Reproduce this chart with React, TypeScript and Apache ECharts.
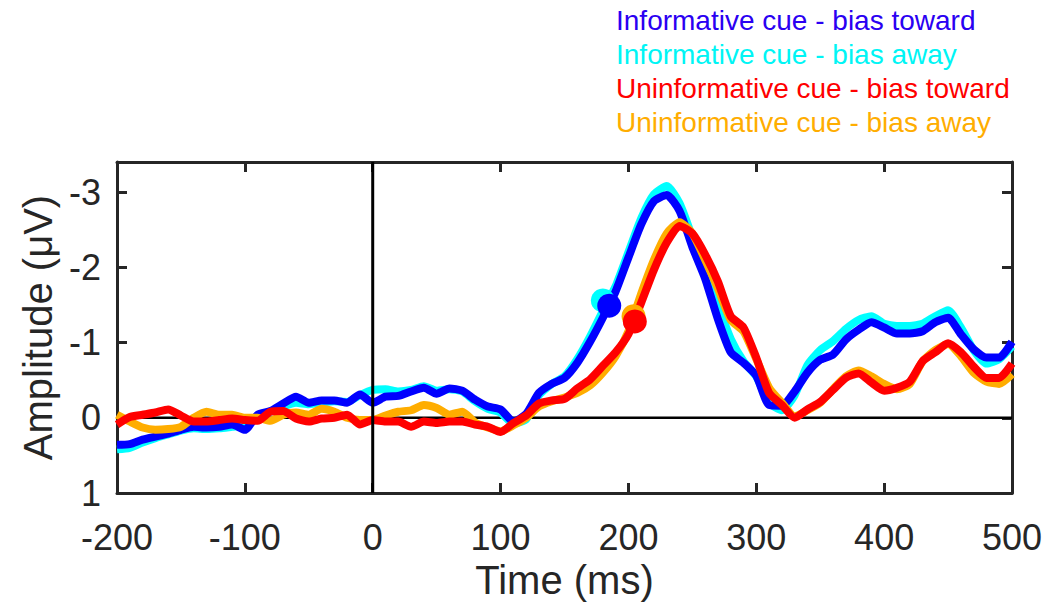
import React, { useEffect, useRef } from "react";
import * as echarts from "echarts";

const times = [
  -200, -190, -180, -170, -160, -150, -140, -130, -120, -110,
  -100, -90, -80, -70, -60, -50, -40, -30, -20, -10,
  0, 10, 20, 30, 40, 50, 60, 70, 80, 90,
  100, 110, 120, 130, 140, 150, 160, 170, 180, 190,
  200, 210, 220, 230, 240, 250, 260, 270, 280, 290,
  300, 310, 320, 330, 340, 350, 360, 370, 380, 390,
  400, 410, 420, 430, 440, 450, 460, 470, 480, 490, 500,
];

const infoToward = [
  0.36, 0.35, 0.29, 0.25, 0.21, 0.16, 0.12, 0.13, 0.12, 0.09,
  0.16, -0.04, -0.09, -0.19, -0.28, -0.2, -0.23, -0.23, -0.2, -0.31,
  -0.2, -0.28, -0.29, -0.35, -0.4, -0.32, -0.39, -0.36, -0.24, -0.15,
  -0.11, 0.05, -0.05, -0.33, -0.45, -0.53, -0.73, -1.01, -1.33, -1.68,
  -2.13, -2.57, -2.88, -2.96, -2.75, -2.27, -1.85, -1.31, -0.87, -0.73,
  -0.56, -0.17, -0.16, -0.35, -0.6, -0.77, -0.84, -1.04, -1.17, -1.27,
  -1.2, -1.12, -1.12, -1.15, -1.27, -1.33, -1.11, -0.91, -0.8, -0.8, -1.01,
];

const infoAway = [
  0.42, 0.4, 0.33, 0.27, 0.22, 0.17, 0.14, 0.15, 0.14, 0.12,
  0.1, 0.0, -0.08, -0.15, -0.2, -0.18, -0.2, -0.22, -0.21, -0.3,
  -0.37, -0.38, -0.35, -0.37, -0.42, -0.36, -0.38, -0.35, -0.22, -0.12,
  -0.07, 0.08, 0.02, -0.3, -0.45, -0.55, -0.78, -1.08, -1.42, -1.75,
  -2.2, -2.65, -2.97, -3.08, -2.85, -2.4, -1.95, -1.5, -1.05, -0.75,
  -0.55, -0.2, -0.1, -0.3, -0.7, -0.9, -1.02, -1.18, -1.3, -1.35,
  -1.25, -1.22, -1.22, -1.25, -1.35, -1.43, -1.2, -0.9, -0.72, -0.78, -0.95,
];

const uninfoToward = [
  0.09, -0.01, -0.04, -0.07, -0.11, -0.03, 0.05, 0.05, 0.03, 0.01,
  0.03, 0.04, -0.08, -0.09, 0.01, 0.05, 0.01, 0.0, -0.04, 0.09,
  0.03, 0.05, 0.05, 0.12, 0.05, 0.07, 0.05, 0.05, 0.09, 0.12,
  0.19, 0.07, -0.03, -0.19, -0.23, -0.25, -0.39, -0.51, -0.69, -0.87,
  -1.11, -1.53, -1.97, -2.33, -2.55, -2.45, -2.17, -1.81, -1.35, -1.2,
  -0.8, -0.33, -0.17, 0.0, -0.11, -0.21, -0.37, -0.53, -0.59, -0.47,
  -0.36, -0.4, -0.48, -0.75, -0.87, -0.99, -0.87, -0.68, -0.53, -0.53, -0.72,
];

const uninfoAway = [
  -0.04, 0.05, 0.13, 0.16, 0.15, 0.12, 0.0, -0.08, -0.04, -0.04,
  0.0, 0.0, 0.04, -0.04, -0.07, -0.04, -0.12, -0.08, 0.0, 0.03,
  0.03, -0.03, -0.08, -0.1, -0.17, -0.13, -0.04, -0.08, 0.06, 0.13,
  0.18, 0.1, 0.0, -0.15, -0.22, -0.27, -0.33, -0.43, -0.6, -0.82,
  -1.15, -1.65, -2.1, -2.45, -2.6, -2.45, -2.1, -1.72, -1.3, -1.15,
  -0.78, -0.4, -0.2, -0.02, -0.1, -0.2, -0.38, -0.55, -0.63, -0.55,
  -0.45, -0.38, -0.45, -0.75, -0.9, -0.98, -0.82, -0.6, -0.48, -0.45, -0.58,
];

// onset markers [time, amplitude]
const onsetInfoToward = [185, -1.49];
const onsetInfoAway = [180, -1.56];
const onsetUninfoToward = [205, -1.28];
const onsetUninfoAway = [204, -1.35];

const yTicks = [-3, -2, -1, 0, 1];

const seriesNames = [
  "Informative cue - bias toward",
  "Informative cue - bias away",
  "Uninformative cue - bias toward",
  "Uninformative cue - bias away",
];
const colors = ["#0000FF", "#00FFFF", "#FF0000", "#FFAD00"];
const legendColors = ["#2A00F2", "#00F5F5", "#FF0000", "#FFAD00"];

const FONT = "Liberation Sans, Arial, Helvetica, sans-serif";
const AXIS = "#262626";

function pairs(vals: number[]) {
  return times.map((t, i) => [t, vals[i]]);
}

export default function App() {
  const ref = useRef<HTMLDivElement>(null);
  useEffect(() => {
    if (!ref.current) return;
    const chart = echarts.init(ref.current, undefined, { renderer: "svg" });

    const lineSeries = (idx: number, vals: number[], onset: number[]) => ({
      name: seriesNames[idx],
      type: "line",
      data: pairs(vals),
      showSymbol: false,
      smooth: 0.2,
      lineStyle: { color: colors[idx], width: 8 },
      itemStyle: { color: colors[idx] },
      z: 3,
      markPoint: {
        silent: true,
        symbol: "circle",
        symbolSize: 24,
        itemStyle: { color: colors[idx] },
        label: { show: false },
        data: [{ coord: onset }],
      },
    });

    const axisLine = { show: true, onZero: false, lineStyle: { color: AXIS, width: 3 } };

    const option: any = {
      animation: false,
      backgroundColor: "#ffffff",
      textStyle: { fontFamily: FONT },
      legend: {
        orient: "vertical",
        left: 606,
        top: 1,
        itemWidth: 0,
        itemHeight: 0,
        itemGap: 6,
        icon: "rect",
        selectedMode: false,
        textStyle: { fontSize: 28, fontFamily: FONT },
        data: seriesNames.map((n, i) => ({
          name: n,
          textStyle: { color: legendColors[i] },
        })),
      },
      grid: { left: 117, top: 162, right: 34, bottom: 116 },
      xAxis: [
        {
          type: "value",
          min: -200,
          max: 500,
          interval: 100,
          position: "bottom",
          name: "Time (ms)",
          nameLocation: "middle",
          nameGap: 62,
          nameTextStyle: { fontSize: 40, color: AXIS, fontFamily: FONT },
          axisLine,
          axisTick: { show: true, inside: true, length: 10, lineStyle: { color: AXIS, width: 3 } },
          axisLabel: { fontSize: 36, color: AXIS, margin: 26, fontFamily: FONT },
          splitLine: { show: false },
        },
        {
          type: "value",
          min: -200,
          max: 500,
          interval: 100,
          position: "top",
          axisLine,
          axisTick: { show: true, inside: true, length: 10, lineStyle: { color: AXIS, width: 3 } },
          axisLabel: { show: false },
          splitLine: { show: false },
        },
      ],
      yAxis: [
        {
          type: "value",
          min: -3.4,
          max: 1,
          inverse: true,
          position: "left",
          name: "Amplitude (\u03bcV)",
          nameLocation: "middle",
          nameRotate: 90,
          nameGap: 56,
          nameTextStyle: { fontSize: 40, color: AXIS, fontFamily: FONT },
          axisLine,
          axisTick: {
            show: true,
            inside: true,
            length: 10,
            customValues: yTicks,
            lineStyle: { color: AXIS, width: 3 },
          },
          axisLabel: {
            fontSize: 36,
            color: AXIS,
            margin: 16,
            customValues: yTicks,
            fontFamily: FONT,
          },
          splitLine: { show: false },
        },
        {
          type: "value",
          min: -3.4,
          max: 1,
          inverse: true,
          position: "right",
          axisLine,
          axisTick: {
            show: true,
            inside: true,
            length: 10,
            customValues: yTicks,
            lineStyle: { color: AXIS, width: 3 },
          },
          axisLabel: { show: false },
          splitLine: { show: false },
        },
      ],
      series: [
        {
          name: "zero",
          type: "line",
          data: [[-200, 0], [500, 0]],
          showSymbol: false,
          silent: true,
          lineStyle: { color: "#000000", width: 2.5 },
          z: 1,
        },
        lineSeries(1, infoAway, onsetInfoAway),
        lineSeries(0, infoToward, onsetInfoToward),
        lineSeries(3, uninfoAway, onsetUninfoAway),
        lineSeries(2, uninfoToward, onsetUninfoToward),
        {
          name: "onset",
          type: "line",
          data: [[0, -3.4], [0, 1]],
          showSymbol: false,
          silent: true,
          lineStyle: { color: "#000000", width: 3 },
          z: 4,
        },
      ],
    };
    chart.setOption(option);
    return () => chart.dispose();
  }, []);

  return (
    <div
      ref={ref}
      style={{ position: "fixed", left: 0, top: 0, width: 1046, height: 609 }}
    />
  );
}
